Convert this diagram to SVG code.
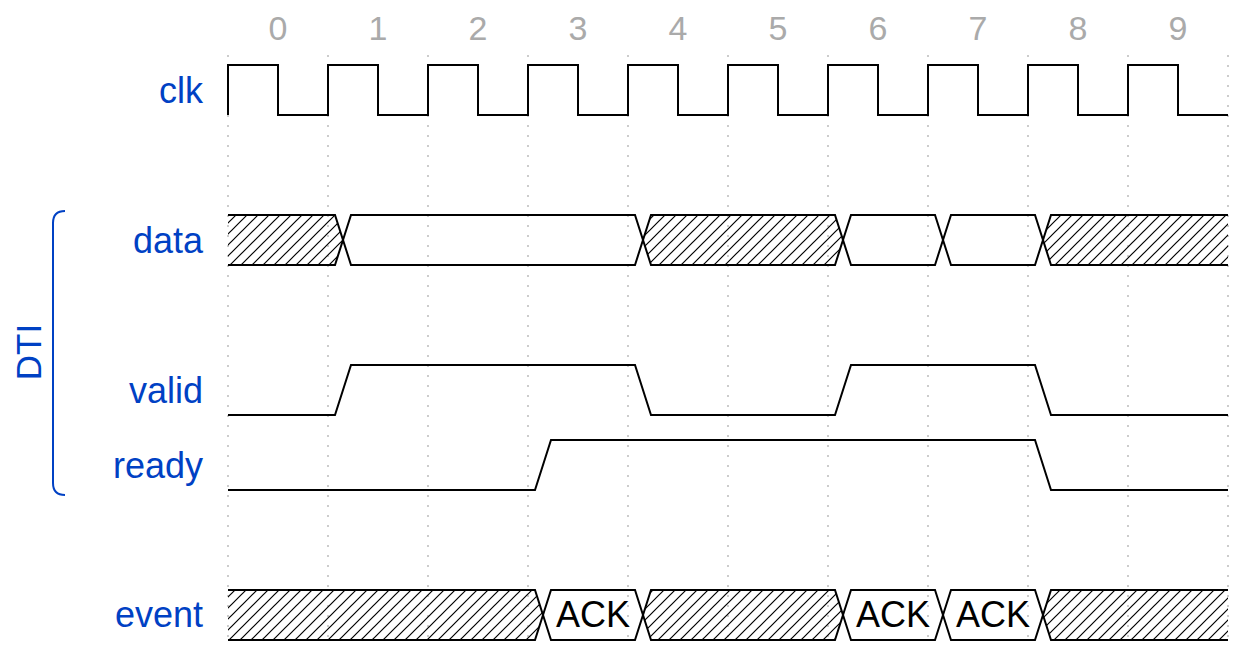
<svg xmlns="http://www.w3.org/2000/svg" width="1237" height="655" viewBox="0 0 1237 655">
<style>
.lbl{font-family:"Liberation Sans",Arial,sans-serif;font-size:36px;fill:#0041c4;text-anchor:end}
.tick{font-family:"Liberation Sans",Arial,sans-serif;font-size:34px;fill:#aaa;text-anchor:middle}
.ack{font-family:"Liberation Sans",Arial,sans-serif;font-size:36px;fill:#000;text-anchor:middle}
.grid{stroke:#999;stroke-width:1;stroke-dasharray:2 8}
.w{fill:none;stroke:#000;stroke-width:2;stroke-linejoin:miter}
.h{fill:url(#hatch);stroke:none}
</style>
<defs>
<pattern id="hatch" patternUnits="userSpaceOnUse" width="11" height="11">
<path d="M0,11 L11,0 M-2,2 L2,-2 M9,13 L13,9" stroke="#000" stroke-width="1.2"/>
</pattern>
</defs>
<rect width="1237" height="655" fill="#fff"/>
<g id="grid">
<path class="grid" d="M228,55V645M328,55V645M428,55V645M528,55V645M628,55V645M728,55V645M828,55V645M928,55V645M1028,55V645M1128,55V645M1228,55V645"/>
</g>
<g id="ticks">
<text class="tick" x="278" y="40">0</text>
<text class="tick" x="378" y="40">1</text>
<text class="tick" x="478" y="40">2</text>
<text class="tick" x="578" y="40">3</text>
<text class="tick" x="678" y="40">4</text>
<text class="tick" x="778" y="40">5</text>
<text class="tick" x="878" y="40">6</text>
<text class="tick" x="978" y="40">7</text>
<text class="tick" x="1078" y="40">8</text>
<text class="tick" x="1178" y="40">9</text>
</g>
<g id="clk">
<text class="lbl" x="203" y="103">clk</text>
<path class="w" d="M228,115V65H278V115H328V65H378V115H428V65H478V115H528V65H578V115H628V65H678V115H728V65H778V115H828V65H878V115H928V65H978V115H1028V65H1078V115H1128V65H1178V115H1228"/>
</g>
<g id="data">
<text class="lbl" x="203" y="253">data</text>
<path class="h" d="M228,215H335L343,240L335,265H228Z"/>
<path class="h" d="M643,240L651,215H835L843,240L835,265H651Z"/>
<path class="h" d="M1043,240L1051,215H1228V265H1051Z"/>
<path class="w" d="M228,215H335L351,265H635L651,215H835L851,265H935L951,215H1035L1051,265H1228"/>
<path class="w" d="M228,265H335L351,215H635L651,265H835L851,215H935L951,265H1035L1051,215H1228"/>
</g>
<g id="valid">
<text class="lbl" x="203" y="403">valid</text>
<path class="w" d="M228,415H335L351,365H635L651,415H835L851,365H1035L1051,415H1228"/>
</g>
<g id="ready">
<text class="lbl" x="203" y="478">ready</text>
<path class="w" d="M228,490H535L551,440H1035L1051,490H1228"/>
</g>
<g id="event">
<text class="lbl" x="203" y="627">event</text>
<path class="h" d="M228,590H535L543,615L535,640H228Z"/>
<path class="h" d="M643,615L651,590H835L843,615L835,640H651Z"/>
<path class="h" d="M1043,615L1051,590H1228V640H1051Z"/>
<path class="w" d="M228,590H535L551,640H635L651,590H835L851,640H935L951,590H1035L1051,640H1228"/>
<path class="w" d="M228,640H535L551,590H635L651,640H835L851,590H935L951,640H1035L1051,590H1228"/>
<text class="ack" x="593" y="627">ACK</text>
<text class="ack" x="893" y="627">ACK</text>
<text class="ack" x="993" y="627">ACK</text>
</g>
<g id="DTI">
<path d="M65,211Q53,211 53,223V483Q53,495 65,495" fill="none" stroke="#0041c4" stroke-width="2"/>
<text transform="translate(41,352) rotate(-90)" style="font-family:'Liberation Sans',Arial,sans-serif;font-size:35px;fill:#0041c4;text-anchor:middle">DTI</text>
</g>
</svg>
